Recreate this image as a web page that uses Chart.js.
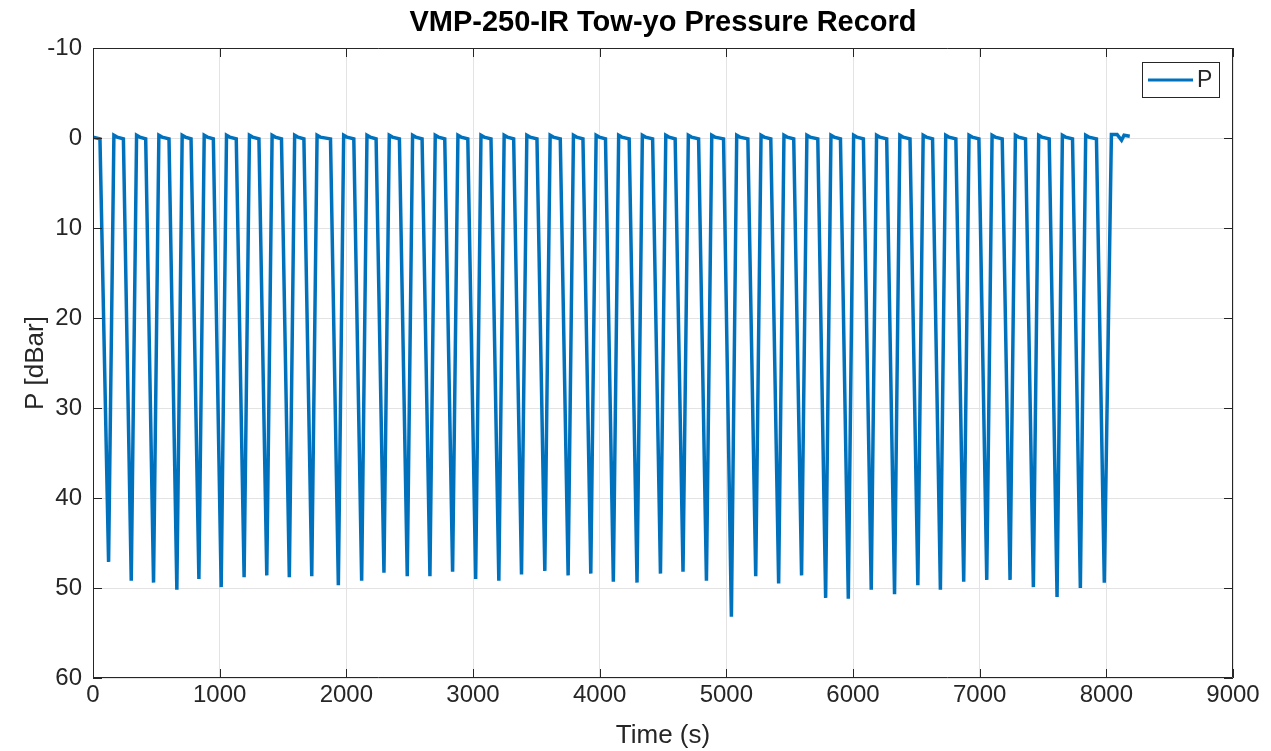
<!DOCTYPE html>
<html>
<head>
<meta charset="utf-8">
<title>VMP-250-IR Tow-yo Pressure Record</title>
<script src="https://cdn.jsdelivr.net/npm/chart.js@4/dist/chart.umd.min.js"></script>
<style>
  html, body { margin: 0; padding: 0; background: #fff; }
  #wrap { width: 1271px; height: 751px; }
</style>
</head>
<body>
<div id="wrap"><canvas id="myChart" width="1271" height="751"></canvas></div>
<script>
"use strict";

// time (s) and pressure (dBar), one dive cycle per line: bottom, surface, surface, leave
var timeS = [
  0, 55,
  123, 165, 190, 240,
  302, 344, 369, 416,
  478, 520, 545, 600,
  662, 704, 729, 774,
  836, 878, 903, 950,
  1012, 1054, 1079, 1131,
  1193, 1235, 1260, 1310,
  1372, 1414, 1439, 1488,
  1550, 1592, 1617, 1665,
  1727, 1769, 1794, 1875,
  1937, 1979, 2004, 2059,
  2121, 2163, 2188, 2235,
  2297, 2339, 2364, 2419,
  2481, 2523, 2548, 2598,
  2660, 2702, 2727, 2777,
  2839, 2881, 2906, 2959,
  3021, 3063, 3088, 3142,
  3204, 3246, 3271, 3321,
  3383, 3425, 3450, 3505,
  3567, 3609, 3634, 3689,
  3751, 3793, 3818, 3868,
  3930, 3972, 3997, 4046,
  4108, 4150, 4175, 4233,
  4295, 4337, 4362, 4418,
  4480, 4522, 4547, 4596,
  4658, 4700, 4725, 4781,
  4843, 4885, 4910, 4978,
  5040, 5082, 5107, 5170,
  5232, 5274, 5299, 5351,
  5413, 5455, 5480, 5532,
  5594, 5636, 5661, 5722,
  5784, 5826, 5851, 5901,
  5963, 6005, 6030, 6082,
  6144, 6186, 6211, 6266,
  6328, 6370, 6395, 6450,
  6512, 6554, 6579, 6628,
  6690, 6732, 6757, 6812,
  6874, 6916, 6941, 6994,
  7056, 7098, 7123, 7178,
  7240, 7282, 7307, 7362,
  7424, 7466, 7491, 7549,
  7611, 7653, 7678, 7733,
  7795, 7837, 7862, 7922,
  7984, 8040, 8085, 8120, 8140, 8185
];

var pressureDbar = [
  -0.1, 0.1,
  47.1, -0.3, -0.1, 0.1,
  49.2, -0.3, -0.1, 0.1,
  49.4, -0.3, -0.1, 0.1,
  50.2, -0.3, -0.1, 0.1,
  49.0, -0.3, -0.1, 0.1,
  49.9, -0.3, -0.1, 0.1,
  48.8, -0.3, -0.1, 0.1,
  48.6, -0.3, -0.1, 0.1,
  48.8, -0.3, -0.1, 0.1,
  48.7, -0.3, -0.1, 0.1,
  49.7, -0.3, -0.1, 0.1,
  49.2, -0.3, -0.1, 0.1,
  48.3, -0.3, -0.1, 0.1,
  48.7, -0.3, -0.1, 0.1,
  48.7, -0.3, -0.1, 0.1,
  48.2, -0.3, -0.1, 0.1,
  49.0, -0.3, -0.1, 0.1,
  49.2, -0.3, -0.1, 0.1,
  48.5, -0.3, -0.1, 0.1,
  48.1, -0.3, -0.1, 0.1,
  48.6, -0.3, -0.1, 0.1,
  48.4, -0.3, -0.1, 0.1,
  49.3, -0.3, -0.1, 0.1,
  49.4, -0.3, -0.1, 0.1,
  48.4, -0.3, -0.1, 0.1,
  48.2, -0.3, -0.1, 0.1,
  49.2, -0.3, -0.1, 0.1,
  53.2, -0.3, -0.1, 0.1,
  48.7, -0.3, -0.1, 0.1,
  49.5, -0.3, -0.1, 0.1,
  48.6, -0.3, -0.1, 0.1,
  51.1, -0.3, -0.1, 0.1,
  51.2, -0.3, -0.1, 0.1,
  50.2, -0.3, -0.1, 0.1,
  50.7, -0.3, -0.1, 0.1,
  49.7, -0.3, -0.1, 0.1,
  50.2, -0.3, -0.1, 0.1,
  49.3, -0.3, -0.1, 0.1,
  49.1, -0.3, -0.1, 0.1,
  49.1, -0.3, -0.1, 0.1,
  49.9, -0.3, -0.1, 0.1,
  51.0, -0.3, -0.1, 0.1,
  50.0, -0.3, -0.1, 0.1,
  49.4, -0.4, -0.4, 0.25, -0.3, -0.2
];

var xTicks = [0, 1000, 2000, 3000, 4000, 5000, 6000, 7000, 8000, 9000];
var yTicks = [-10, 0, 10, 20, 30, 40, 50, 60];

var seriesName = "P";
var lineColor = "#0072BD";
var textColor = "#262626";
var fontFamily = "'Liberation Sans', Arial, Helvetica, sans-serif";

var points = [];
for (var i = 0; i < timeS.length; i++) {
  points.push({ x: timeS[i], y: pressureDbar[i] });
}

//---------- frame, inner ticks, title and legend like the matlab figure
var matlabBox = {
  id: "matlabBox",
  afterDraw: function (chart) {
    var ctx = chart.ctx;
    var a = chart.chartArea;
    var xs = chart.scales.x;
    var ys = chart.scales.y;
    ctx.save();
    ctx.strokeStyle = textColor;
    ctx.lineWidth = 1;
    ctx.beginPath();
    ctx.rect(a.left + 0.5, a.top + 0.5, a.right - a.left - 1, a.bottom - a.top - 1);
    ctx.stroke();

    var tl = 9;
    ctx.beginPath();
    xTicks.forEach(function (t) {
      var px = Math.round(xs.getPixelForValue(t)) + 0.5;
      ctx.moveTo(px, a.bottom);
      ctx.lineTo(px, a.bottom - tl);
      ctx.moveTo(px, a.top);
      ctx.lineTo(px, a.top + tl);
    });
    yTicks.forEach(function (t) {
      var py = Math.round(ys.getPixelForValue(t)) + 0.5;
      ctx.moveTo(a.left, py);
      ctx.lineTo(a.left + tl, py);
      ctx.moveTo(a.right, py);
      ctx.lineTo(a.right - tl, py);
    });
    ctx.stroke();

    // title
    ctx.fillStyle = "#000";
    ctx.font = "bold 29px " + fontFamily;
    ctx.textAlign = "center";
    ctx.textBaseline = "middle";
    ctx.fillText("VMP-250-IR Tow-yo Pressure Record", (a.left + a.right) / 2, 23);

    // legend
    var lx = a.right - 91, ly = a.top + 14, lw = 77, lh = 35;
    ctx.fillStyle = "#fff";
    ctx.fillRect(lx, ly, lw, lh);
    ctx.strokeStyle = textColor;
    ctx.lineWidth = 1;
    ctx.strokeRect(lx + 0.5, ly + 0.5, lw, lh);
    ctx.strokeStyle = lineColor;
    ctx.lineWidth = 3;
    ctx.beginPath();
    ctx.moveTo(lx + 6, ly + 18);
    ctx.lineTo(lx + 51, ly + 18);
    ctx.stroke();
    ctx.fillStyle = textColor;
    ctx.font = "23px " + fontFamily;
    ctx.textAlign = "left";
    ctx.fillText(seriesName, lx + 55, ly + 19);
    ctx.restore();
  }
};

var ctx = document.getElementById("myChart").getContext("2d");
var chart = new Chart(ctx, {
  type: "line",
  data: {
    datasets: [
      {
        label: seriesName,
        data: points,
        borderColor: lineColor,
        backgroundColor: lineColor,
        borderWidth: 3.5,
        pointRadius: 0,
        tension: 0,
        fill: false
      }
    ]
  },
  options: {
    responsive: false,
    animation: false,
    layout: { padding: { left: 0, right: 38, top: 48, bottom: 0 } },
    plugins: {
      legend: { display: false },
      title: { display: false },
      tooltip: { enabled: false }
    },
    scales: {
      x: {
        type: "linear",
        min: 0,
        max: 9000,
        afterBuildTicks: function (scale) {
          scale.ticks = xTicks.map(function (v) { return { value: v }; });
        },
        afterFit: function (scale) { scale.height = 73; },
        grid: { color: "#e3e3e3", drawTicks: false },
        border: { display: false },
        ticks: {
          color: textColor,
          padding: 3,
          maxRotation: 0,
          font: { family: fontFamily, size: 24 },
          callback: function (v) { return String(v); }
        },
        title: {
          display: true,
          text: "Time (s)",
          color: textColor,
          padding: { top: 0, bottom: 0 },
          font: { family: fontFamily, size: 26, lineHeight: 1.2 }
        }
      },
      y: {
        type: "linear",
        reverse: true,
        min: -10,
        max: 60,
        afterBuildTicks: function (scale) {
          scale.ticks = yTicks.map(function (v) { return { value: v }; });
        },
        afterFit: function (scale) { scale.width = 93; },
        grid: { color: "#e3e3e3", drawTicks: false },
        border: { display: false },
        ticks: {
          color: textColor,
          padding: 11,
          font: { family: fontFamily, size: 24 },
          callback: function (v) { return String(v); }
        },
        title: {
          display: true,
          text: "P [dBar]",
          color: textColor,
          padding: { top: 20, bottom: 0 },
          font: { family: fontFamily, size: 26, lineHeight: 1.2 }
        }
      }
    }
  },
  plugins: [matlabBox]
});
</script>
</body>
</html>
